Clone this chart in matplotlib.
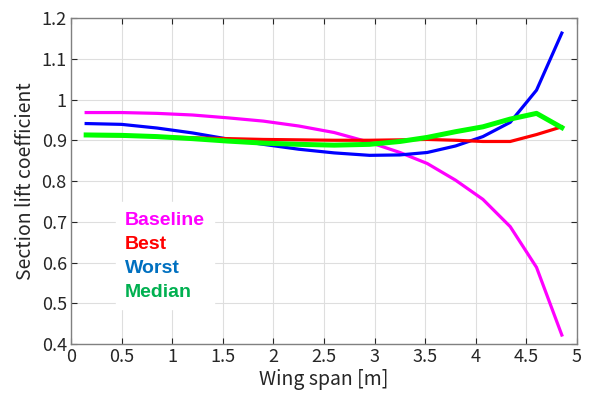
import matplotlib
matplotlib.use("Agg")
import matplotlib.pyplot as plt
from matplotlib.lines import Line2D

# span stations [m]
span = [0.15, 0.5, 0.85, 1.2, 1.55, 1.9, 2.25, 2.6, 2.95, 3.25, 3.52, 3.8, 4.07, 4.34, 4.6, 4.85]

baseline = [0.968, 0.968, 0.966, 0.962, 0.955, 0.947, 0.935, 0.919, 0.895, 0.870, 0.843, 0.802, 0.755, 0.688, 0.588, 0.422]
best     = [0.912, 0.911, 0.909, 0.906, 0.904, 0.902, 0.901, 0.900, 0.900, 0.901, 0.902, 0.900, 0.897, 0.897, 0.914, 0.933]
worst    = [0.941, 0.939, 0.930, 0.918, 0.903, 0.890, 0.878, 0.869, 0.863, 0.864, 0.870, 0.886, 0.909, 0.944, 1.023, 1.163]
median   = [0.913, 0.912, 0.909, 0.904, 0.898, 0.893, 0.890, 0.888, 0.890, 0.897, 0.907, 0.921, 0.933, 0.952, 0.966, 0.931]

labels = ["Baseline", "Best", "Worst", "Median"]
line_colors = ["#ff00ff", "#ff0000", "#0000ff", "#00ff00"]
text_colors = ["#ff00ff", "#ff0000", "#0070c0", "#00b050"]

plt.rcParams['font.family'] = ['Noto Sans CJK JP', 'DejaVu Sans']

fig = plt.figure(figsize=(5.98, 4.03), dpi=100)
ax = fig.add_axes([0.1187, 0.1464, 0.8462, 0.8089])

ax.plot(span, baseline, color=line_colors[0], lw=2.3, zorder=3)
ax.plot(span, worst, color=line_colors[2], lw=2.3, zorder=3)
ax.plot(span, best, color=line_colors[1], lw=2.3, zorder=3)
ax.plot(span, median, color=line_colors[3], lw=3.6, zorder=4)

ax.set_xlim(0, 5)
ax.set_ylim(0.4, 1.2)
ax.set_xticks([0, 0.5, 1, 1.5, 2, 2.5, 3, 3.5, 4, 4.5, 5])
ax.set_xticklabels(["0", "0.5", "1", "1.5", "2", "2.5", "3", "3.5", "4", "4.5", "5"])
ax.set_yticks([0.4, 0.5, 0.6, 0.7, 0.8, 0.9, 1.0, 1.1, 1.2])
ax.set_yticklabels(["0.4", "0.5", "0.6", "0.7", "0.8", "0.9", "1", "1.1", "1.2"])
ax.tick_params(direction="in", top=True, right=True, labelsize=13, colors="#262626",
               length=4, width=0.8, pad=3)
ax.grid(True, color="#dedede", lw=0.8)
ax.set_axisbelow(True)
for s in ax.spines.values():
    s.set_color("#808080")
    s.set_linewidth(1.0)

ax.set_xlabel("Wing span [m]", fontsize=14, color="#262626", labelpad=2)
ax.set_ylabel("Section lift coefficient", fontsize=14, color="#262626", labelpad=4)

handles = [Line2D([], [], lw=0) for _ in labels]
leg = ax.legend(handles, labels, loc="upper left", bbox_to_anchor=(0.07, 0.465),
                handlelength=0, handletextpad=0, frameon=True, framealpha=1,
                edgecolor="white", facecolor="white", fancybox=False,
                labelspacing=0.33, borderpad=0.45,
                prop={"family": "Liberation Sans", "weight": "bold", "size": 14},
                labelcolor=text_colors)

fig.savefig("out.png", dpi=100)
